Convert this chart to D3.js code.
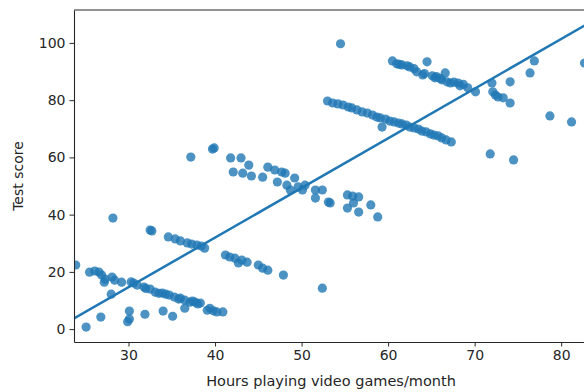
<!DOCTYPE html>
<html>
<head>
<meta charset="utf-8">
<script src="https://cdn.jsdelivr.net/npm/d3@7"></script>
<style>
  body { margin: 0; background: #fff; }
  svg text { font-family: "DejaVu Sans", sans-serif; fill: #262626; }
</style>
</head>
<body>
<div id="chart"></div>
<script>
// hours / score pairs
const hours = [
  23.9, 25.1, 25.5, 26.1, 26.6, 26.9, 27.3, 27.2, 28.1, 28.4, 29.2, 28.0, 28.2, 26.8, 30.1, 30.1, 29.9,
  30.6, 31.0, 31.8, 32.5, 33.1, 33.9, 34.7, 35.3, 31.9, 34.0, 35.1, 36.0, 36.5, 37.1, 37.7, 38.3,
  39.1, 39.4, 40.2, 40.9, 36.5,
  30.3, 32.0, 33.5, 34.3, 35.8, 37.4, 38.0, 39.8,
  32.5, 32.7, 34.6, 35.4, 36.0, 36.8, 37.3, 37.9, 38.4, 38.8,
  41.2, 41.7, 42.3, 42.7, 43.1, 43.7, 45.0, 45.5, 46.1, 47.9, 52.4,
  37.2, 39.7, 39.9, 41.8, 43.0, 42.1, 43.2, 43.9, 44.2, 45.5, 46.1, 46.9, 47.7, 48.1, 47.2, 48.3,
  49.2, 49.6, 50.1, 48.7, 51.6, 52.4, 51.6, 53.1, 53.3, 50.4,
  55.3, 55.9, 56.6, 55.3, 56.0, 56.6, 58.0, 58.8,
  53.0, 53.6, 54.2, 54.8, 55.4, 55.8, 56.4, 57.0, 57.6, 58.2, 58.7, 59.1, 59.3, 59.7, 60.2, 60.7,
  61.2, 61.6, 62.1, 62.5, 63.0, 63.5, 63.9, 64.4, 64.9, 65.3, 65.8, 66.2, 66.7, 67.3,
  60.5, 61.0, 61.6, 62.2, 62.5, 63.3, 64.5, 64.0, 65.1, 65.4, 66.2, 66.6, 66.8, 67.2, 68.1, 68.3, 69.2, 70.1,
  61.3, 63.0, 64.2, 65.6, 66.0, 67.6, 68.7,
  72.0, 72.1, 72.4, 72.7, 73.3, 74.1, 74.1, 76.4, 76.9, 78.7, 81.2, 71.8, 74.5, 82.7, 54.5
];
const scores = [
  22.4, 0.7, 19.9, 20.3, 19.9, 18.9, 17.5, 16.4, 18.2, 17.1, 16.4, 12.2, 38.8, 4.2, 6.3, 3.5, 2.6,
  16.1, 15.4, 14.7, 14.0, 12.9, 12.6, 11.9, 11.2, 5.2, 6.3, 4.5, 10.8, 10.1, 9.4, 9.4, 9.1,
  6.6, 7.3, 6.0, 6.0, 7.3,
  16.5, 14.2, 12.5, 12.2, 10.5, 9.8, 8.8, 6.4,
  34.6, 34.3, 32.2, 31.5, 30.8, 30.1, 29.7, 29.4, 29.0, 28.3,
  25.9, 25.2, 24.8, 23.1, 24.1, 23.4, 22.4, 21.3, 20.6, 18.9, 14.3,
  60.1, 62.9, 63.3, 59.8, 59.8, 54.9, 54.5, 57.3, 53.5, 53.1, 56.6, 55.6, 54.9, 54.5, 51.4, 50.3,
  52.8, 49.7, 48.6, 48.6, 48.6, 48.6, 45.8, 44.4, 44.1, 50.3,
  46.9, 46.5, 46.2, 42.3, 44.1, 40.9, 43.4, 39.2,
  79.7, 79.0, 78.7, 78.3, 77.6, 77.3, 76.6, 75.9, 75.5, 74.8, 74.1, 73.8, 70.6, 73.4, 72.7, 72.4,
  72.0, 71.7, 71.3, 70.6, 70.3, 69.9, 69.2, 68.9, 68.2, 67.8, 67.5, 66.8, 66.1, 65.4,
  93.7, 92.7, 92.3, 92.0, 91.6, 89.9, 93.4, 88.8, 88.5, 87.8, 87.1, 89.5, 86.4, 86.0, 86.0, 85.0, 84.3, 82.9,
  92.5, 91.0, 89.3, 88.2, 87.6, 86.3, 85.5,
  86.0, 82.9, 81.8, 81.1, 80.8, 79.0, 86.4, 89.5, 93.7, 74.5, 72.4, 61.2, 59.1, 93.0, 99.7
];
const xTicks = [30, 40, 50, 60, 70, 80];
const yTicks = [0, 20, 40, 60, 80, 100];

const width = 584, height = 392;
const plot = { left: 74, top: 10, right: 588, bottom: 342 };
const blue = '#1f77b4';

let svg = d3.select('#chart').append('svg')
  .attr('width', width).attr('height', height);

let x = d3.scaleLinear().domain([23.7, 83.1]).range([plot.left, plot.right]);
let y = d3.scaleLinear().domain([-4.5, 111.5]).range([plot.bottom, plot.top]);

svg.append('clipPath').attr('id', 'clip')
  .append('rect')
  .attr('x', plot.left).attr('y', plot.top)
  .attr('width', plot.right - plot.left).attr('height', plot.bottom - plot.top);

let data = hours.map((h, i) => ({ h: h, s: scores[i] }));

// least squares fit
let mx = d3.mean(hours), my = d3.mean(scores);
let sxy = d3.sum(data, d => (d.h - mx) * (d.s - my));
let sxx = d3.sum(data, d => (d.h - mx) * (d.h - mx));
let slope = sxy / sxx, intercept = my - slope * mx;

let g = svg.append('g').attr('clip-path', 'url(#clip)');

g.append('g').selectAll('circle')
  .data(data)
  .enter().append('circle')
    .attr('cx', d => x(d.h))
    .attr('cy', d => y(d.s))
    .attr('r', 4.6)
    .attr('fill', blue)
    .attr('fill-opacity', 0.8);

let xs = x.domain();
g.append('line')
  .attr('x1', x(xs[0])).attr('y1', y(intercept + slope * xs[0]))
  .attr('x2', x(xs[1])).attr('y2', y(intercept + slope * xs[1]))
  .attr('stroke', blue)
  .attr('stroke-width', 2.5);

// axes
let xAxis = svg.append('g')
  .attr('transform', `translate(0,${plot.bottom})`)
  .call(d3.axisBottom(x).tickValues(xTicks).tickSize(4.5).tickPadding(4).tickSizeOuter(0));
let yAxis = svg.append('g')
  .attr('transform', `translate(${plot.left},0)`)
  .call(d3.axisLeft(y).tickValues(yTicks).tickSize(4.5).tickPadding(4).tickSizeOuter(0));

[xAxis, yAxis].forEach(a => {
  a.selectAll('text').style('font-size', '14px').attr('fill', '#262626');
  a.selectAll('line').attr('stroke', '#262626');
  a.select('.domain').attr('stroke', '#262626').attr('stroke-width', 1.1);
});

// top spine, right one falls outside the frame
svg.append('line')
  .attr('x1', plot.left).attr('x2', plot.right)
  .attr('y1', plot.top).attr('y2', plot.top)
  .attr('stroke', '#262626').attr('stroke-width', 1.1);

svg.append('text')
  .attr('x', (plot.left + plot.right) / 2)
  .attr('y', 386)
  .attr('text-anchor', 'middle')
  .style('font-size', '14.5px')
  .text('Hours playing video games/month');

svg.append('text')
  .attr('transform', `translate(23,${(plot.top + plot.bottom) / 2}) rotate(-90)`)
  .attr('text-anchor', 'middle')
  .style('font-size', '14px')
  .text('Test score');
</script>
</body>
</html>
